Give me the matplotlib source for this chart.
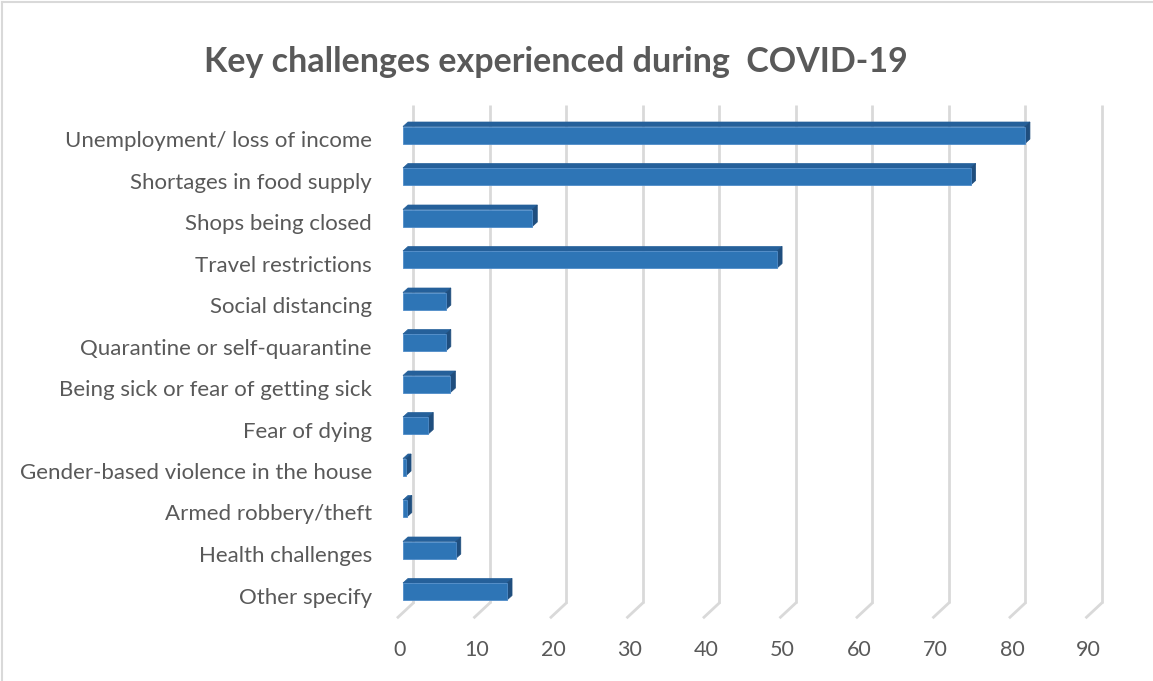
import matplotlib
matplotlib.use("Agg")
import matplotlib.pyplot as plt
from matplotlib.patches import Polygon
from matplotlib.lines import Line2D

categories = [
    "Unemployment/ loss of income",
    "Shortages in food supply",
    "Shops being closed",
    "Travel restrictions",
    "Social distancing",
    "Quarantine or self-quarantine",
    "Being sick or fear of getting sick",
    "Fear of dying",
    "Gender-based violence in the house",
    "Armed robbery/theft",
    "Health challenges",
    "Other specify",
]
values = [81.3, 74.2, 16.9, 48.9, 5.6, 5.6, 6.2, 3.3, 0.4, 0.5, 6.9, 13.6]
xticks = [0, 10, 20, 30, 40, 50, 60, 70, 80, 90]
title = "Key challenges experienced during  COVID-19"

plt.rcParams['font.family'] = ['Lato', 'DejaVu Sans']
TXT = "#595959"
FRONT = "#2E75B6"
TOP = "#25609A"
SIDE = "#1F4E7E"
GRID = "#D9D9D9"

W, H = 1153, 681
fig = plt.figure(figsize=(W / 100, H / 100), dpi=100)
fig.patch.set_facecolor("white")

# back wall region in pixels
left_px, right_px = 413, 1101.5
top_px, bot_px = 105.25, 603.25
ax = fig.add_axes([left_px / W, 1 - bot_px / H, (right_px - left_px) / W, (bot_px - top_px) / H])
ax.set_xlim(0, 90)
ax.set_ylim(len(categories) - 0.5, -0.5)
ax.axis("off")

ppx = (right_px - left_px) / 90.0           # pixels per value unit
ppy = (bot_px - top_px) / len(categories)   # pixels per category


def off(dx_px, dy_px):
    # image pixel offset -> data units (y down in image = + in data)
    return dx_px / ppx, dy_px / ppy


# gridlines on back wall + floor diagonals
fl = off(-15, 14)
for t in xticks:
    ax.add_line(Line2D([t, t], [-0.5, len(categories) - 0.5], color=GRID, lw=2.0,
                       solid_capstyle="butt", clip_on=False, zorder=1))
    ax.add_line(Line2D([t, t + fl[0]], [len(categories) - 0.5, len(categories) - 0.5 + fl[1]],
                       color=GRID, lw=2.0, clip_on=False, zorder=1))
    ax.text(t + fl[0] + 2 / ppx, len(categories) - 0.5 + off(0, 47)[1], str(t),
            ha="center", va="center", fontsize=15.5, color=TXT, clip_on=False)

# bars (3D look)
F = off(-10, 9)
B = off(-5, 4.5)
h = 17 / ppy
for i, v in enumerate(values):
    yc = i
    top = yc - h / 2
    bot = yc + h / 2
    front = [(0 + F[0], top + F[1]), (v + F[0], top + F[1]), (v + F[0], bot + F[1]), (0 + F[0], bot + F[1])]
    topf = [(0 + F[0], top + F[1]), (v + F[0], top + F[1]), (v + B[0], top + B[1]), (0 + B[0], top + B[1])]
    side = [(v + F[0], top + F[1]), (v + B[0], top + B[1]), (v + B[0], bot + B[1]), (v + F[0], bot + F[1])]
    ax.add_patch(Polygon(topf, closed=True, facecolor=TOP, edgecolor=TOP, lw=0.5, zorder=3, clip_on=False))
    ax.add_patch(Polygon(side, closed=True, facecolor=SIDE, edgecolor=SIDE, lw=0.5, zorder=3, clip_on=False))
    ax.add_patch(Polygon(front, closed=True, facecolor=FRONT, edgecolor="#4F8CC9", lw=0.6, zorder=4, clip_on=False))
    ax.text(-41 / ppx, i + off(0, 15)[1], categories[i], ha="right", va="center",
            fontsize=16, color=TXT, clip_on=False)

fig.text(556 / W, 1 - 62 / H, title, ha="center", va="center", fontsize=24.5,
         fontweight="bold", color=TXT)

# chart border
fig.add_artist(Line2D([1.5 / W, 1.5 / W], [0, 1 - 1.5 / H], color=GRID, lw=1.5, transform=fig.transFigure))
fig.add_artist(Line2D([1.5 / W, 1], [1 - 1.5 / H, 1 - 1.5 / H], color=GRID, lw=1.5, transform=fig.transFigure))

fig.savefig("out.png", dpi=100, facecolor="white")
